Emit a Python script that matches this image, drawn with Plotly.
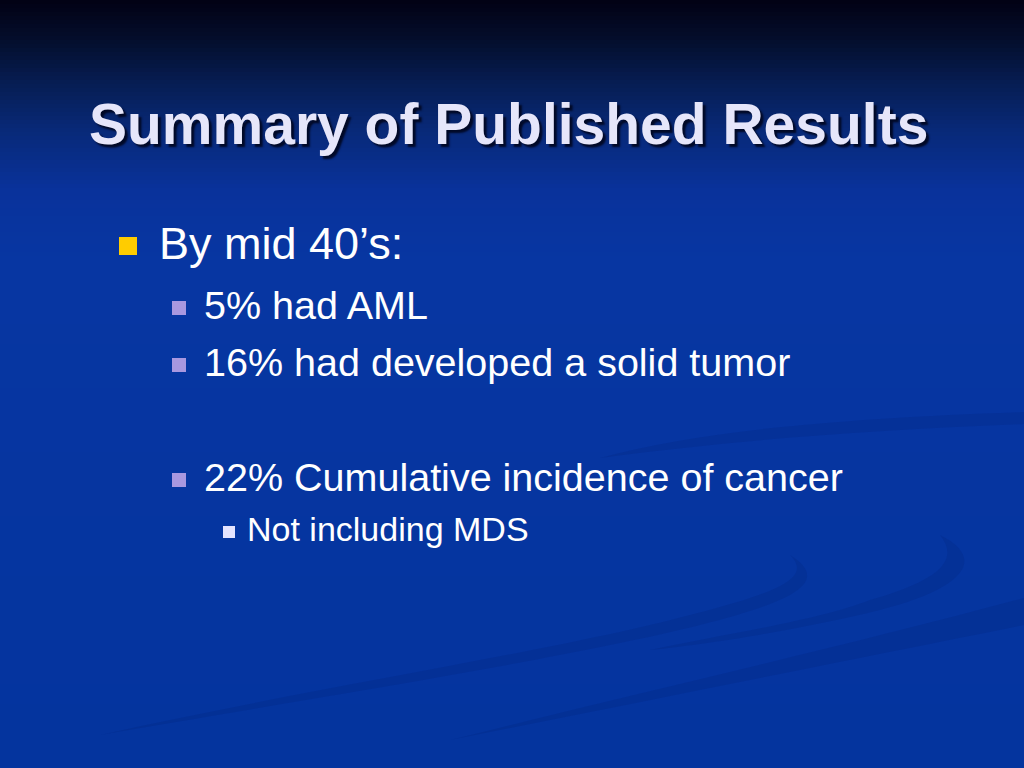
import plotly.graph_objects as go

# ---- content (data) ----
title_text = "Summary of Published Results"
lines = [
    "By mid 40\u2019s:",
    "5% had AML",
    "16% had developed a solid tumor",
    "",
    "22% Cumulative incidence of cancer",
    "Not including MDS",
]
levels = [1, 2, 2, 0, 2, 3]

# ---- styles ----
W, H = 1024, 768
FONT = "Liberation Sans, Arial, sans-serif"
level_style = {
    1: dict(size=45, bx=119, bs=18, tx=157, color="#ffcc00"),
    2: dict(size=39.5, bx=172, bs=14, tx=202, color="#a898e0"),
    3: dict(size=34, bx=223, bs=12, tx=245, color="#e4e4ff"),
}
line_y = [243, 305, 362, 420, 477, 529]

fig = go.Figure()

shapes = []
# background gradient
stops = [(0, (2, 1, 20)), (40, (4, 14, 44)), (80, (6, 28, 80)), (130, (8, 41, 120)),
         (190, (9, 50, 155)), (260, (7, 54, 162)), (768, (4, 52, 158))]
step = 4
for y0 in range(0, H, step):
    yc = y0 + step / 2
    for (a, ca), (b, cb) in zip(stops[:-1], stops[1:]):
        if a <= yc <= b:
            t = (yc - a) / (b - a)
            c = tuple(int(round(ca[i] + (cb[i] - ca[i]) * t)) for i in range(3))
            break
    shapes.append(dict(type="rect", xref="x", yref="y", x0=0, x1=W, y0=y0, y1=y0 + step,
                       fillcolor="rgb(%d,%d,%d)" % c, line=dict(width=0), layer="below"))

# faint swooshes
swoosh = "rgba(0,20,90,0.13)"
shapes.append(dict(type="path", xref="x", yref="y", layer="below", line=dict(width=0), fillcolor=swoosh,
                   path="M 600 458 C 700 430, 850 418, 1024 412 L 1024 424 C 860 430, 720 442, 600 458 Z"))
shapes.append(dict(type="path", xref="x", yref="y", layer="below", line=dict(width=0), fillcolor=swoosh,
                   path="M 790 555 C 830 580, 800 600, 700 625 C 560 660, 300 700, 100 735 "
                        "C 300 690, 560 650, 690 615 C 790 590, 810 575, 790 555 Z"))
shapes.append(dict(type="path", xref="x", yref="y", layer="below", line=dict(width=0), fillcolor=swoosh,
                   path="M 940 535 C 990 560, 960 590, 880 610 C 800 630, 700 645, 650 650 "
                        "C 720 635, 820 620, 870 600 C 940 580, 960 560, 940 535 Z"))
shapes.append(dict(type="path", xref="x", yref="y", layer="below", line=dict(width=0), fillcolor=swoosh,
                   path="M 1024 598 L 1024 625 C 850 660, 650 700, 450 740 C 650 690, 850 645, 1024 598 Z"))

annotations = []
# title with shadow
annotations.append(dict(x=508, y=124, xref="x", yref="y", text="<b>%s</b>" % title_text,
                        showarrow=False, xanchor="center", yanchor="middle",
                        font=dict(family=FONT, size=57, color="#e6e6fa",
                                  shadow="3px 3px 2px rgba(0,5,30,0.9)")))

for txt, lvl, y in zip(lines, levels, line_y):
    if lvl == 0:
        continue
    st = level_style[lvl]
    shapes.append(dict(type="rect", xref="x", yref="y", x0=st["bx"], x1=st["bx"] + st["bs"],
                       y0=y - st["bs"] / 2 + 3, y1=y + st["bs"] / 2 + 3,
                       fillcolor=st["color"], line=dict(width=0)))
    annotations.append(dict(x=st["tx"], y=y, xref="x", yref="y", text=txt, showarrow=False,
                            xanchor="left", yanchor="middle",
                            font=dict(family=FONT, size=st["size"], color="#ffffff")))

fig.update_layout(
    width=W, height=H, margin=dict(l=0, r=0, t=0, b=0),
    paper_bgcolor="#0434a0", plot_bgcolor="#0434a0",
    xaxis=dict(range=[0, W], visible=False, fixedrange=True),
    yaxis=dict(range=[H, 0], visible=False, fixedrange=True),
    shapes=shapes, annotations=annotations, showlegend=False,
)

fig.write_html("out.html", config={"displayModeBar": False},
               post_script="document.body.style.margin='0';document.body.style.overflow='hidden';")
